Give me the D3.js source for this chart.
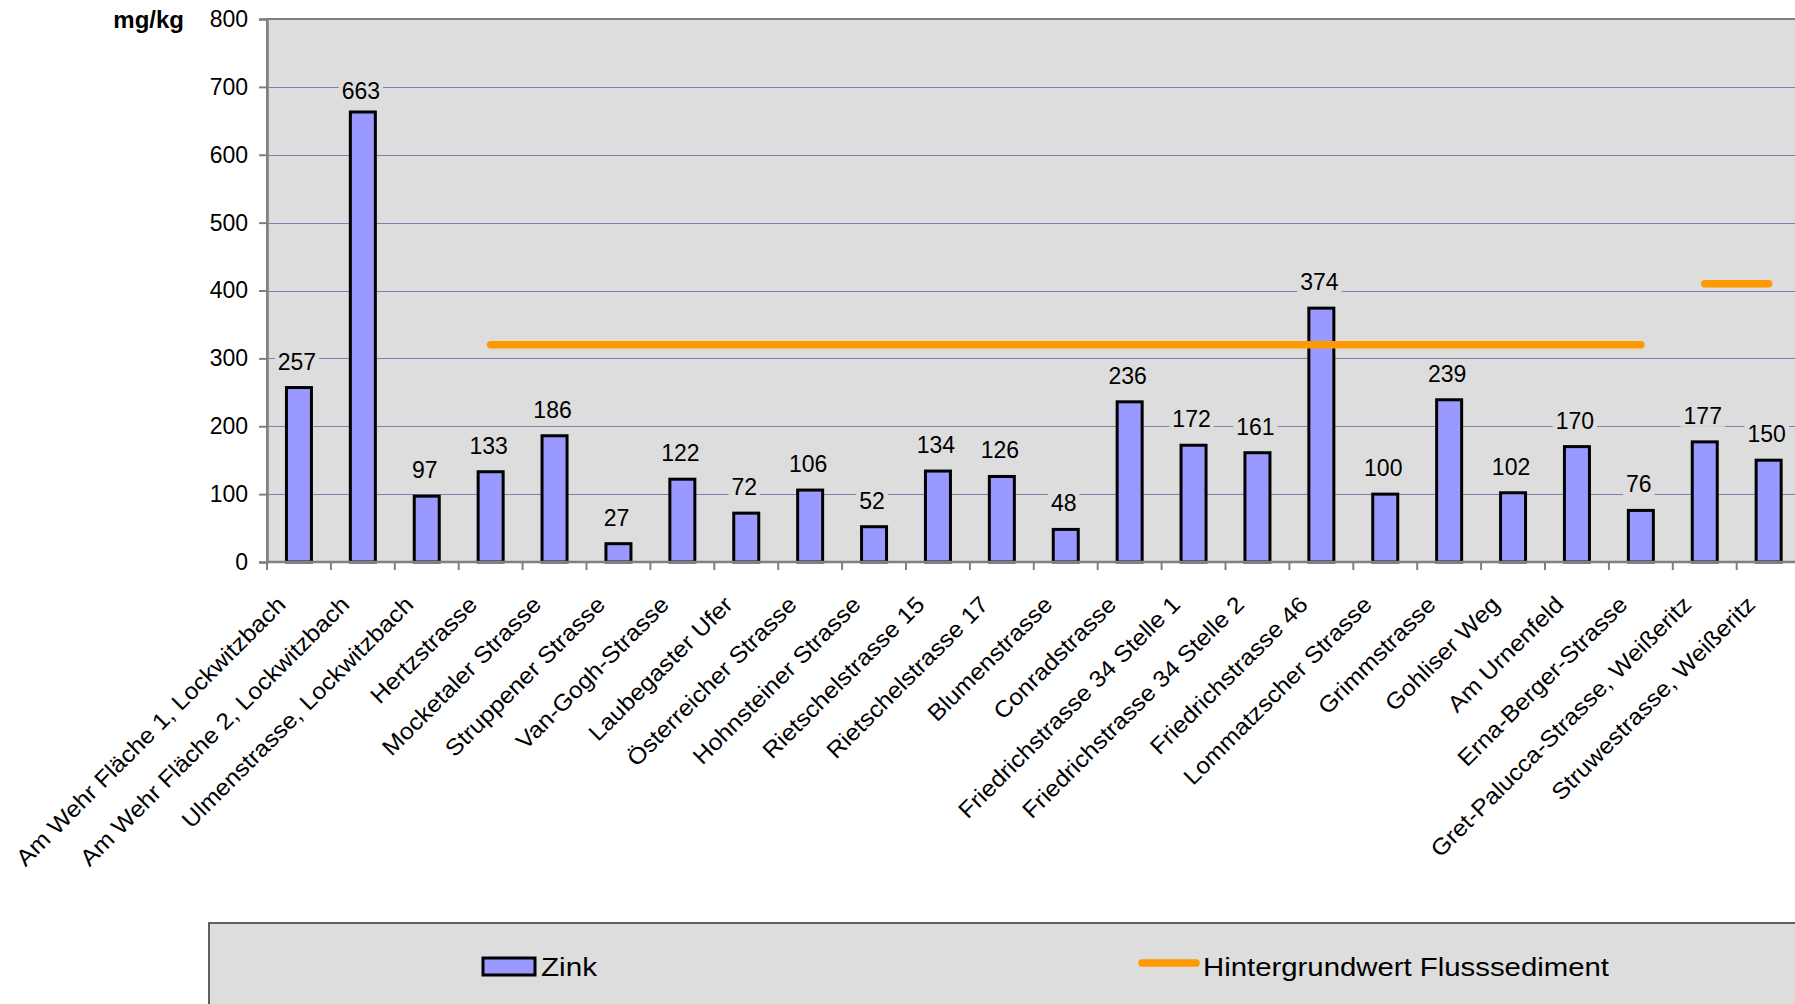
<!DOCTYPE html>
<html>
<head>
<meta charset="utf-8">
<script src="https://cdn.jsdelivr.net/npm/d3@7"></script>
<style>
  body { margin: 0; background: #ffffff; }
  svg { display: block; font-family: "Liberation Sans", Arial, sans-serif; }
</style>
</head>
<body>
<div id="chart"></div>
<script>
// data
var categories = [
  "Am Wehr Fläche 1, Lockwitzbach",
  "Am Wehr Fläche 2, Lockwitzbach",
  "Ulmenstrasse, Lockwitzbach",
  "Hertzstrasse",
  "Mocketaler Strasse",
  "Struppener Strasse",
  "Van-Gogh-Strasse",
  "Laubegaster Ufer",
  "Österreicher Strasse",
  "Hohnsteiner Strasse",
  "Rietschelstrasse 15",
  "Rietschelstrasse 17",
  "Blumenstrasse",
  "Conradstrasse",
  "Friedrichstrasse 34 Stelle 1",
  "Friedrichstrasse 34 Stelle 2",
  "Friedrichstrasse 46",
  "Lommatzscher Strasse",
  "Grimmstrasse",
  "Gohliser Weg",
  "Am Urnenfeld",
  "Erna-Berger-Strasse",
  "Gret-Palucca-Strasse, Weißeritz",
  "Struwestrasse, Weißeritz"
];
var zink = [257, 663, 97, 133, 186, 27, 122, 72, 106, 52, 134, 126, 48, 236, 172, 161, 374, 100, 239, 102, 170, 76, 177, 150];
// Hintergrundwert Flusssediment (null = kein Wert)
var hintergrund = [null, null, null, 320, 320, 320, 320, 320, 320, 320, 320, 320, 320, 320, 320, 320, 320, 320, 320, 320, 320, 320, 410, 410];
var yTicks = [0, 100, 200, 300, 400, 500, 600, 700, 800];
var seriesNames = ["Zink", "Hintergrundwert Flusssediment"];

var width = 1795, height = 1004;
var plotLeft = 267, plotTop = 19, plotBottom = 562;
var band = 63.9;
var plotRight = plotLeft + band * categories.length;

var svg = d3.select('#chart')
  .append('svg')
  .attr('width', width)
  .attr('height', height);

var x = d3.scaleBand()
  .domain(categories)
  .range([plotLeft, plotRight])
  .paddingInner(0)
  .paddingOuter(0);

var y = d3.scaleLinear()
  .domain([0, 800])
  .range([plotBottom, plotTop]);

// plot area
svg.append('rect')
  .attr('x', plotLeft)
  .attr('y', plotTop)
  .attr('width', plotRight - plotLeft)
  .attr('height', plotBottom - plotTop)
  .attr('fill', '#dddddd')
  .attr('stroke', '#808080')
  .attr('stroke-width', 2);

// gridlines
svg.append('g')
  .selectAll('line')
  .data(yTicks.filter(function(d) { return d > 0 && d < 800; }))
  .join('line')
  .attr('x1', plotLeft)
  .attr('x2', plotRight)
  .attr('y1', function(d) { return Math.round(y(d)) + 0.5; })
  .attr('y2', function(d) { return Math.round(y(d)) + 0.5; })
  .attr('stroke', '#8080aa')
  .attr('stroke-width', 1.2);

// y axis
var yAxis = svg.append('g')
  .attr('transform', 'translate(' + plotLeft + ',0)')
  .call(d3.axisLeft(y).tickValues(yTicks).tickSize(8).tickPadding(11));
yAxis.select('.domain').attr('stroke', '#808080').attr('stroke-width', 2.5);
yAxis.selectAll('.tick line').attr('stroke', '#808080').attr('stroke-width', 2);
yAxis.selectAll('.tick text')
  .attr('fill', '#000')
  .style('font-size', '23px')
  .style('font-family', '"Liberation Sans", Arial, sans-serif');

svg.append('text')
  .attr('x', 184)
  .attr('y', 28)
  .attr('text-anchor', 'end')
  .style('font-size', '24px')
  .style('font-weight', 'bold')
  .text('mg/kg');

// bars
var barW = 25;
svg.append('g')
  .selectAll('rect')
  .data(zink)
  .join('rect')
  .attr('x', function(d, i) { return x(categories[i]) + (x.bandwidth() - barW) / 2; })
  .attr('y', function(d) { return y(d); })
  .attr('width', barW)
  .attr('height', function(d) { return y(0) - y(d); })
  .attr('fill', '#9999ff')
  .attr('stroke', '#000')
  .attr('stroke-width', 3);

// x axis line and ticks at band edges
svg.append('line')
  .attr('x1', plotLeft)
  .attr('x2', plotRight)
  .attr('y1', plotBottom)
  .attr('y2', plotBottom)
  .attr('stroke', '#808080')
  .attr('stroke-width', 2.5);
svg.append('g')
  .selectAll('line')
  .data(categories.concat(['end']))
  .join('line')
  .attr('x1', function(d, i) { return plotLeft + i * x.step(); })
  .attr('x2', function(d, i) { return plotLeft + i * x.step(); })
  .attr('y1', plotBottom)
  .attr('y2', plotBottom + 8)
  .attr('stroke', '#808080')
  .attr('stroke-width', 2);

// category labels (slightly wide text like the original)
svg.append('g')
  .selectAll('text')
  .data(categories)
  .join('text')
  .attr('transform', function(d) {
    return 'translate(' + (x(d) + x.bandwidth() / 2 - 12) + ',' + (plotBottom + 44) + ') rotate(-45) scale(1.085,1)';
  })
  .attr('text-anchor', 'end')
  .style('font-size', '23px')
  .text(function(d) { return d; });

// background line: split into runs of equal value
var runs = [];
hintergrund.forEach(function(v, i) {
  if (v === null) return;
  var last = runs[runs.length - 1];
  if (last && last.value === v && last.end === i - 1) {
    last.end = i;
  } else {
    runs.push({ value: v, start: i, end: i });
  }
});
var line = d3.line()
  .x(function(d) { return x(categories[d.i]) + x.bandwidth() / 2; })
  .y(function(d) { return y(d.v); });
svg.append('g')
  .selectAll('path')
  .data(runs)
  .join('path')
  .attr('d', function(r) {
    var pts = [];
    for (var i = r.start; i <= r.end; i++) pts.push({ i: i, v: hintergrund[i] });
    return line(pts);
  })
  .attr('fill', 'none')
  .attr('stroke', '#ff9900')
  .attr('stroke-width', 7.5)
  .attr('stroke-linecap', 'round');

// data labels with plot-colored background
var labels = svg.append('g')
  .selectAll('g')
  .data(zink)
  .join('g');
labels.append('rect').attr('fill', '#dddddd');
labels.append('text')
  .attr('x', function(d, i) { return x(categories[i]) + x.bandwidth() / 2 - 2; })
  .attr('y', function(d) { return Math.max(y(d) - 18, 99); })
  .attr('text-anchor', 'middle')
  .style('font-size', '23px')
  .text(function(d) { return d; });
labels.each(function() {
  var g = d3.select(this);
  var bb = g.select('text').node().getBBox();
  g.select('rect')
    .attr('x', bb.x - 3)
    .attr('y', bb.y + 2)
    .attr('width', bb.width + 6)
    .attr('height', bb.height - 4);
});

// legend
var legend = svg.append('g');
legend.append('rect')
  .attr('x', 209)
  .attr('y', 923)
  .attr('width', 1700)
  .attr('height', 200)
  .attr('fill', '#dddddd')
  .attr('stroke', '#606060')
  .attr('stroke-width', 2);
legend.append('rect')
  .attr('x', 483)
  .attr('y', 958)
  .attr('width', 52)
  .attr('height', 17)
  .attr('fill', '#9999ff')
  .attr('stroke', '#000')
  .attr('stroke-width', 3);
legend.append('text')
  .attr('x', 541)
  .attr('y', 976)
  .attr('textLength', 56)
  .attr('lengthAdjust', 'spacingAndGlyphs')
  .style('font-size', '25px')
  .text(seriesNames[0]);
legend.append('line')
  .attr('x1', 1142)
  .attr('x2', 1196)
  .attr('y1', 963)
  .attr('y2', 963)
  .attr('stroke', '#ff9900')
  .attr('stroke-width', 7.5)
  .attr('stroke-linecap', 'round');
legend.append('text')
  .attr('x', 1203)
  .attr('y', 976)
  .attr('textLength', 406)
  .attr('lengthAdjust', 'spacingAndGlyphs')
  .style('font-size', '25px')
  .text(seriesNames[1]);
</script>
</body>
</html>
